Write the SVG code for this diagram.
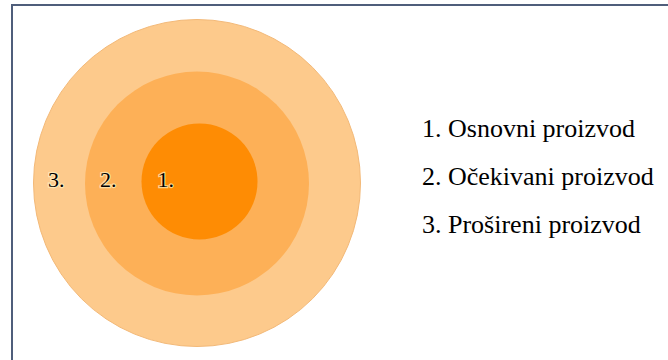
<svg xmlns="http://www.w3.org/2000/svg" width="668" height="360" viewBox="0 0 668 360">
<style>
.lbl{font-family:"Liberation Serif","Times New Roman",serif;fill:#000}
.num{font-size:22px;stroke:#fff4c8;stroke-width:2.5;stroke-opacity:0.7;paint-order:stroke}
.leg{font-size:26px}
</style>
<rect x="0" y="0" width="668" height="360" fill="#ffffff"/>
<rect x="12" y="5" width="700" height="400" fill="#ffffff" stroke="#4f5e7b" stroke-width="2"/>
<g id="ring3">
<circle cx="197" cy="183" r="163.5" fill="#fdca8c" stroke="#f3b978" stroke-width="1"/>
<text class="lbl num" x="48" y="186.5">3.</text>
</g>
<g id="ring2">
<circle cx="197" cy="183.5" r="112" fill="#fdb057"/>
<text class="lbl num" x="100" y="186.5">2.</text>
</g>
<g id="ring1">
<circle cx="199.5" cy="181.5" r="58" fill="#fe8c04"/>
<text class="lbl num" x="157.5" y="186.5">1.</text>
</g>
<g id="connectors"/>
<g id="legend">
<text class="lbl leg" x="422" y="137">1. Osnovni proizvod</text>
<text class="lbl leg" x="422" y="185">2. Očekivani proizvod</text>
<text class="lbl leg" x="422" y="233">3. Prošireni proizvod</text>
</g>
</svg>
